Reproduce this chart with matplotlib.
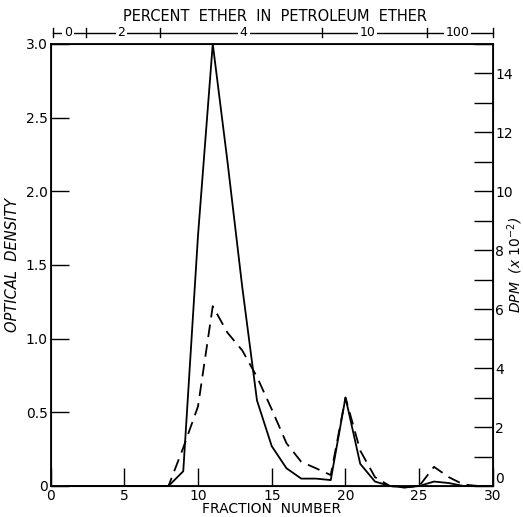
import matplotlib
matplotlib.use('Agg')
import matplotlib.pyplot as plt

# fraction numbers and readings
fractions = [1, 2, 3, 4, 5, 6, 7, 8, 9, 10, 11, 12, 13, 14, 15,
             16, 17, 18, 19, 20, 21, 22, 23, 24, 25, 26, 27, 28, 29, 30]
optical_density = [0, 0, 0, 0, 0, 0, 0, 0, 0.1, 1.7, 3.0, 2.2, 1.35, 0.58, 0.27,
                   0.12, 0.05, 0.05, 0.04, 0.6, 0.15, 0.03, 0, -0.01, 0, 0.03, 0.02, 0, 0, 0]
dpm = [0, 0, 0, 0, 0, 0, 0, 0, 1.3, 2.7, 6.1, 5.2, 4.6, 3.7, 2.6,
       1.45, 0.82, 0.6, 0.37, 3.0, 1.2, 0.3, 0, -0.05, 0, 0.65, 0.3, 0.05, 0, 0]

# solvent gradient bar on top
ether_bounds = [0.15, 2.4, 7.4, 18.4, 25.5, 30]
ether_labels = ['0', '2', '4', '10', '100']
ether_label_pos = [1.2, 4.8, 13.1, 21.5, 27.6]

fig = plt.figure(figsize=(5.23, 5.17), dpi=100)
ax = fig.add_axes([0.0966, 0.060, 0.846, 0.855])

ax.plot(fractions, optical_density, color='black', lw=1.3, clip_on=False)
ax.set_xlim(0, 30)
ax.set_ylim(0, 3.0)
ax.set_xticks([0, 5, 10, 15, 20, 25, 30])
ax.set_xticklabels(['0', '5', '10', '15', '20', '25', '30'])
ax.set_yticks([0, 0.5, 1.0, 1.5, 2.0, 2.5, 3.0])
ax.set_yticklabels(['0', '0.5', '1.0', '1.5', '2.0', '2.5', '3.0'])
ax.tick_params(direction='in', length=13, width=1.0, labelsize=10, pad=2)
ax.tick_params(axis='x', pad=2.5)
for s in ax.spines.values():
    s.set_linewidth(1.3)

ax2 = ax.twinx()
ax2.plot(fractions, dpm, color='black', lw=1.3, dashes=(7, 4), clip_on=False)
ax2.set_ylim(0, 15)
ax2.set_yticks(range(0, 16))
ax2.set_yticklabels([str(v) if v % 2 == 0 else '' for v in range(0, 16)])
ax2.tick_params(direction='in', length=14, width=1.0, labelsize=10, pad=1.5)
for lab in ax2.get_yticklabels():
    if lab.get_text() == '0':
        lab.set_va('bottom')

ax.set_xlabel('FRACTION  NUMBER', fontsize=10, labelpad=-1)
ax.set_ylabel('OPTICAL  DENSITY', fontsize=10.5, style='italic', labelpad=4)
ax2.set_ylabel('DPM  (x $10^{-2}$)', fontsize=10, style='italic', rotation=90)
ax2.yaxis.set_label_coords(1.027, 0.5)

# ether scale bar above the plot
tr = ax.get_xaxis_transform()
bar_y = 1.025
ax.plot([ether_bounds[0], ether_bounds[-1]], [bar_y, bar_y], color='black', lw=1.0,
        transform=tr, clip_on=False)
for b in ether_bounds:
    ax.plot([b, b], [bar_y - 0.01, bar_y + 0.01], color='black', lw=1.0,
            transform=tr, clip_on=False)
for lab, xp in zip(ether_labels, ether_label_pos):
    ax.text(xp, bar_y, lab, transform=tr, ha='center', va='center', fontsize=9,
            bbox=dict(boxstyle='square,pad=0.15', facecolor='white', edgecolor='none'))
ax.text(15.2, 1.062, 'PERCENT  ETHER  IN  PETROLEUM  ETHER', transform=tr,
        ha='center', va='center', fontsize=10.5)

fig.savefig('out.png', dpi=100)
